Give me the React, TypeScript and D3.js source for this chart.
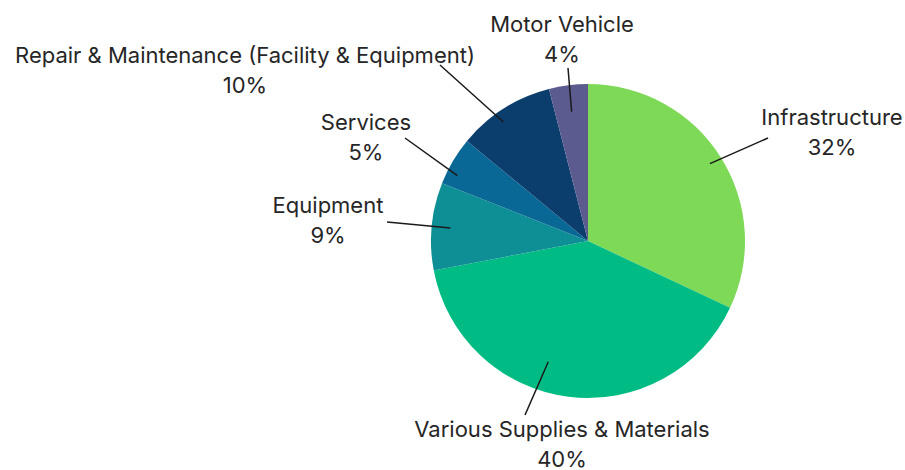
import React from "react";
import * as d3 from "d3";

const categories = [
  "Infrastructure",
  "Various Supplies & Materials",
  "Equipment",
  "Services",
  "Repair & Maintenance (Facility & Equipment)",
  "Motor Vehicle",
];
const values = [32, 40, 9, 5, 10, 4];
const colors = ["#7ED957", "#00BC84", "#0E8F95", "#0A6896", "#0B3D6D", "#5B5B8F"];

// label layout: text center x, first baseline y, leader outer end, leader inner radius factor, angle offset (deg)
const labelPos = [
  { x: 832, y: 125, lx: 768, ly: 138, rf: 0.92, da: 0 },
  { x: 562, y: 437, lx: 525, ly: 415, rf: 0.81, da: 11 },
  { x: 328, y: 213, lx: 387, ly: 222, rf: 0.88, da: 0 },
  { x: 366, y: 130, lx: 405, ly: 138, rf: 0.93, da: -4 },
  { x: 245, y: 63, lx: 440, ly: 65, rf: 0.93, da: -3 },
  { x: 562, y: 32, lx: 568, ly: 68, rf: 0.83, da: 0 },
];

const W = 905;
const H = 470;
const cx = 588;
const cy = 241;
const R = 157;

export default function App() {
  const data = categories.map((c, i) => ({ name: c, value: values[i], color: colors[i] }));
  const pie = d3.pie<any>().value((d) => d.value).sort(null);
  const arcs = pie(data);
  const arcGen = d3.arc<any>().innerRadius(0).outerRadius(R);
  const total = d3.sum(values);
  const fmt = d3.format(".0%");

  return (
    <svg
      width={W}
      height={H}
      style={{ position: "absolute", left: 0, top: 0, display: "block", background: "#fff" }}
      fontFamily="Inter, 'Noto Sans', sans-serif"
    >
      <g transform={`translate(${cx},${cy})`}>
        {arcs.map((a, i) => (
          <path key={i} d={arcGen(a) as string} fill={a.data.color} />
        ))}
      </g>
      {arcs.map((a, i) => {
        const lp = labelPos[i];
        const mid = (a.startAngle + a.endAngle) / 2 + (lp.da * Math.PI) / 180;
        const r = R * lp.rf;
        const ix = cx + Math.sin(mid) * r;
        const iy = cy - Math.cos(mid) * r;
        return (
          <g key={i}>
            <line x1={ix} y1={iy} x2={lp.lx} y2={lp.ly} stroke="#1a1a1a" strokeWidth={1.5} />
            <text x={lp.x} y={lp.y} textAnchor="middle" fontSize={22} fill="#262626">
              {a.data.name}
            </text>
            <text x={lp.x} y={lp.y + 30} textAnchor="middle" fontSize={22} fill="#262626">
              {fmt(a.data.value / total)}
            </text>
          </g>
        );
      })}
    </svg>
  );
}
